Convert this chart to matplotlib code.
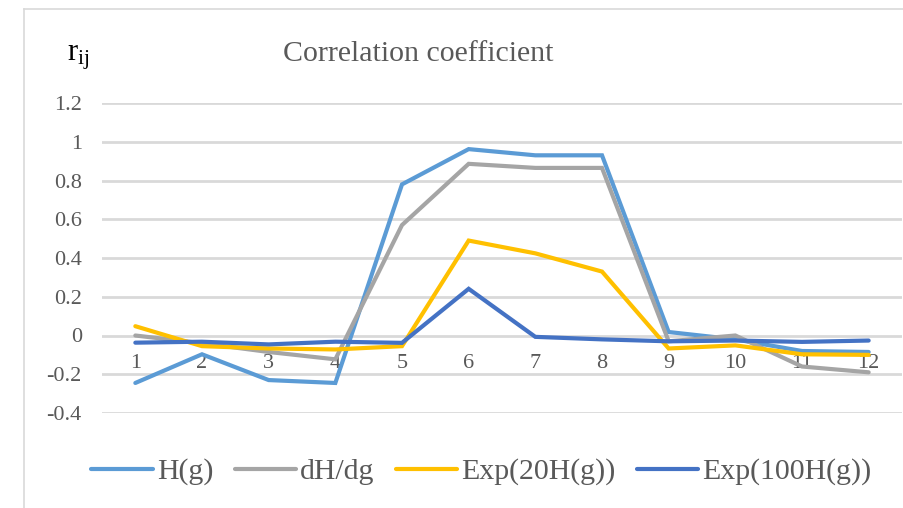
import matplotlib
matplotlib.use('Agg')
import matplotlib.pyplot as plt
from matplotlib.lines import Line2D

# categories (g index) and the four series
categories = [1, 2, 3, 4, 5, 6, 7, 8, 9, 10, 11, 12]
h_g = [-0.245, -0.097, -0.23, -0.245, 0.78, 0.962, 0.93, 0.93, 0.018, -0.02, -0.08, -0.085]
dh_dg = [0.0, -0.04, -0.085, -0.123, 0.57, 0.886, 0.865, 0.865, -0.03, 0.0, -0.16, -0.19]
exp_20 = [0.048, -0.055, -0.067, -0.072, -0.055, 0.49, 0.424, 0.33, -0.067, -0.051, -0.097, -0.1]
exp_100 = [-0.037, -0.032, -0.046, -0.032, -0.038, 0.241, -0.007, -0.02, -0.03, -0.026, -0.033, -0.026]

series_names = ['H(g)', 'dH/dg', 'Exp(20H(g))', 'Exp(100H(g))']
y_ticks = [-0.4, -0.2, 0, 0.2, 0.4, 0.6, 0.8, 1, 1.2]
y_tick_labels = ['-0.4', '-0.2', '0', '0.2', '0.4', '0.6', '0.8', '1', '1.2']

plt.rcParams['font.family'] = ['Liberation Serif', 'DejaVu Serif']
plt.rcParams['mathtext.fontset'] = 'custom'
plt.rcParams['mathtext.rm'] = 'Liberation Serif'
plt.rcParams['mathtext.it'] = 'Liberation Serif:italic'

W, H = 904, 508
fig = plt.figure(figsize=(W / 100, H / 100), dpi=100)
ax = fig.add_axes([102 / W, (H - 413) / H, 800 / W, 310 / H])

colors = ['#5B9BD5', '#A5A5A5', '#FFC000', '#4472C4']
lines = []
for vals, name, c in zip([h_g, dh_dg, exp_20, exp_100], series_names, colors):
    ln, = ax.plot(categories, vals, color=c, lw=3.0, label=name,
                  solid_capstyle='round', solid_joinstyle='miter', zorder=3)
    lines.append(ln)

ax.set_xlim(0.5, 12.5)
ax.set_ylim(-0.4, 1.2)
ax.set_yticks(y_ticks)
ax.set_yticklabels(y_tick_labels)
ax.set_xticks(categories)
ax.set_xticklabels([str(c) for c in categories])

# category labels sit just under the zero line, like Excel does
for s in ['top', 'right', 'left']:
    ax.spines[s].set_visible(False)
ax.spines['bottom'].set_position(('data', 0))
ax.spines['bottom'].set_visible(False)
ax.yaxis.grid(True, color='#D9D9D9', lw=2.0, zorder=0)
ax.set_axisbelow(True)
ax.tick_params(axis='both', length=0, labelsize=16, labelcolor='#595959')
ax.tick_params(axis='y', pad=14.5)
ax.tick_params(axis='x', pad=13.5)

fig.text(418 / W, (H - 61) / H, 'Correlation coefficient', ha='center', va='baseline',
         fontsize=21.5, color='#595959')
fig.text(66.7 / W, (H - 60) / H, r'$\mathregular{r_{ij}}$', ha='left', va='baseline',
         fontsize=22, color='black')

fig.legend(handles=lines, loc='center', bbox_to_anchor=(481.5 / W, (H - 471.7) / H),
           ncol=4, frameon=False, fontsize=21.5, labelcolor='#595959',
           handlelength=2.05, handletextpad=0.15, columnspacing=0.7, borderpad=0)

# light outer frame of the chart area (left and top edges visible)
fig.add_artist(Line2D([24 / W, 24 / W], [0, (H - 9) / H], color='#D9D9D9', lw=1.2))
fig.add_artist(Line2D([24 / W, 1], [(H - 9) / H, (H - 9) / H], color='#D9D9D9', lw=1.2))

plt.savefig('out.png', dpi=100)
